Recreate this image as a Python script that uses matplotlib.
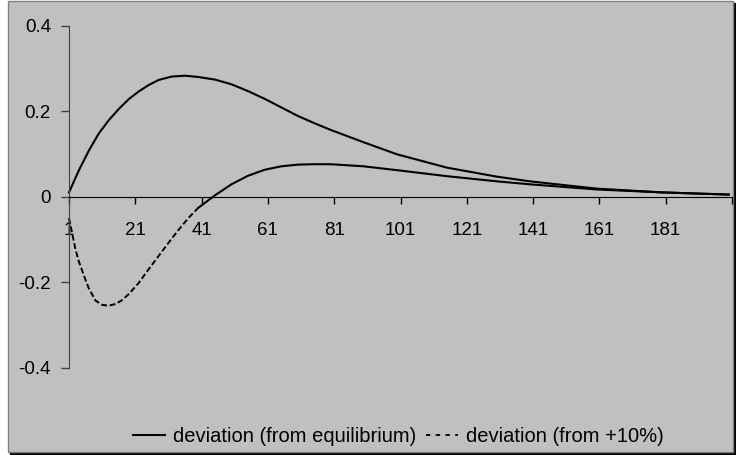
import numpy as np
import matplotlib.pyplot as plt
from matplotlib.patches import Rectangle
from matplotlib.lines import Line2D

plt.rcParams['font.family'] = ['Liberation Sans', 'DejaVu Sans']

# deviation (from equilibrium)
x_eq = [1, 4, 7, 10, 13, 16, 19, 22, 25, 28, 32, 36, 40, 45, 50, 55, 60, 65,
        70, 75, 80, 90, 100, 115, 130, 140, 160, 180, 200]
y_eq = [0.010, 0.062, 0.108, 0.148, 0.179, 0.205, 0.228, 0.246, 0.261, 0.273,
        0.281, 0.283, 0.280, 0.274, 0.263, 0.247, 0.229, 0.209, 0.189, 0.172,
        0.156, 0.127, 0.099, 0.068, 0.047, 0.036, 0.019, 0.010, 0.005]

# deviation (from +10%)
x_p10 = [1, 3, 4, 6, 7, 9, 11, 13, 15, 17, 19, 22, 25, 28, 31, 34, 37, 40,
         45, 50, 55, 60, 65, 70, 75, 80, 90, 100, 115, 130, 140, 160, 180, 200]
y_p10 = [-0.050, -0.125, -0.152, -0.195, -0.215, -0.243, -0.253, -0.255,
         -0.251, -0.242, -0.228, -0.202, -0.170, -0.139, -0.108, -0.078,
         -0.050, -0.026, 0.003, 0.029, 0.049, 0.063, 0.071, 0.075, 0.076,
         0.076, 0.071, 0.062, 0.048, 0.036, 0.029, 0.017, 0.010, 0.005]

x_ticks = [1, 21, 41, 61, 81, 101, 121, 141, 161, 181, 201]
x_labels = ["1", "21", "41", "61", "81", "101", "121", "141", "161", "181", ""]
y_ticks = [-0.4, -0.2, 0, 0.2, 0.4]
y_labels = ["-0.4", "-0.2", "0", "0.2", "0.4"]

W, H = 736, 455
fig = plt.figure(figsize=(W / 100, H / 100), dpi=100, facecolor="white")

# chart area frame with shadow
fig.patches.append(Rectangle(((7.5 + 2) / W, (H - 451.5 - 2) / H), 725.5 / W, 450.5 / H,
                             transform=fig.transFigure, facecolor="black",
                             edgecolor="black", lw=1, zorder=-3))
fig.patches.append(Rectangle((7.5 / W, (H - 451.5) / H), 725.5 / W, 450.5 / H,
                             transform=fig.transFigure, facecolor="#c0c0c0",
                             edgecolor="#808080", lw=1, zorder=-2))

ax = fig.add_axes([69 / W, 1 - 367.7 / H, 663 / W, 342 / H])
ax.set_facecolor("none")

ax.plot(x_eq, y_eq, color="black", lw=1.5, clip_on=False)

cut = x_p10.index(40)
ax.plot(x_p10[:cut + 1], y_p10[:cut + 1], color="black", lw=1.4,
        linestyle=(0, (3.0, 1.4)), clip_on=False)
ax.plot(x_p10[cut:], y_p10[cut:], color="black", lw=1.5, clip_on=False)

ax.set_xlim(1, 201)
ax.set_ylim(-0.4, 0.4)

ax.spines["top"].set_visible(False)
ax.spines["right"].set_visible(False)
ax.spines["bottom"].set_position(("data", 0))
ax.spines["bottom"].set_color("black")
ax.spines["left"].set_color("#404040")

ax.set_xticks(x_ticks)
ax.set_xticklabels(x_labels)
ax.set_yticks(y_ticks)
ax.set_yticklabels(y_labels)
ax.tick_params(axis="x", direction="out", length=5, width=1, pad=13,
               labelsize=13.5, color="black")
ax.tick_params(axis="y", direction="out", length=6, width=1, pad=7,
               labelsize=13.5, color="#404040")

handles = [Line2D([], [], color="black", lw=1.5),
           Line2D([], [], color="black", lw=1.3, linestyle=(0, (2.4, 3.0)))]
fig.legend(handles, ["deviation (from equilibrium)", "deviation (from +10%)"],
           loc="center", bbox_to_anchor=(398.5 / W, 1 - 437 / H), ncol=2,
           frameon=False, fontsize=14.5, handlelength=1.6, handletextpad=0.4,
           columnspacing=0.45, borderpad=0)

plt.savefig("out.png", dpi=100, facecolor=fig.get_facecolor())
